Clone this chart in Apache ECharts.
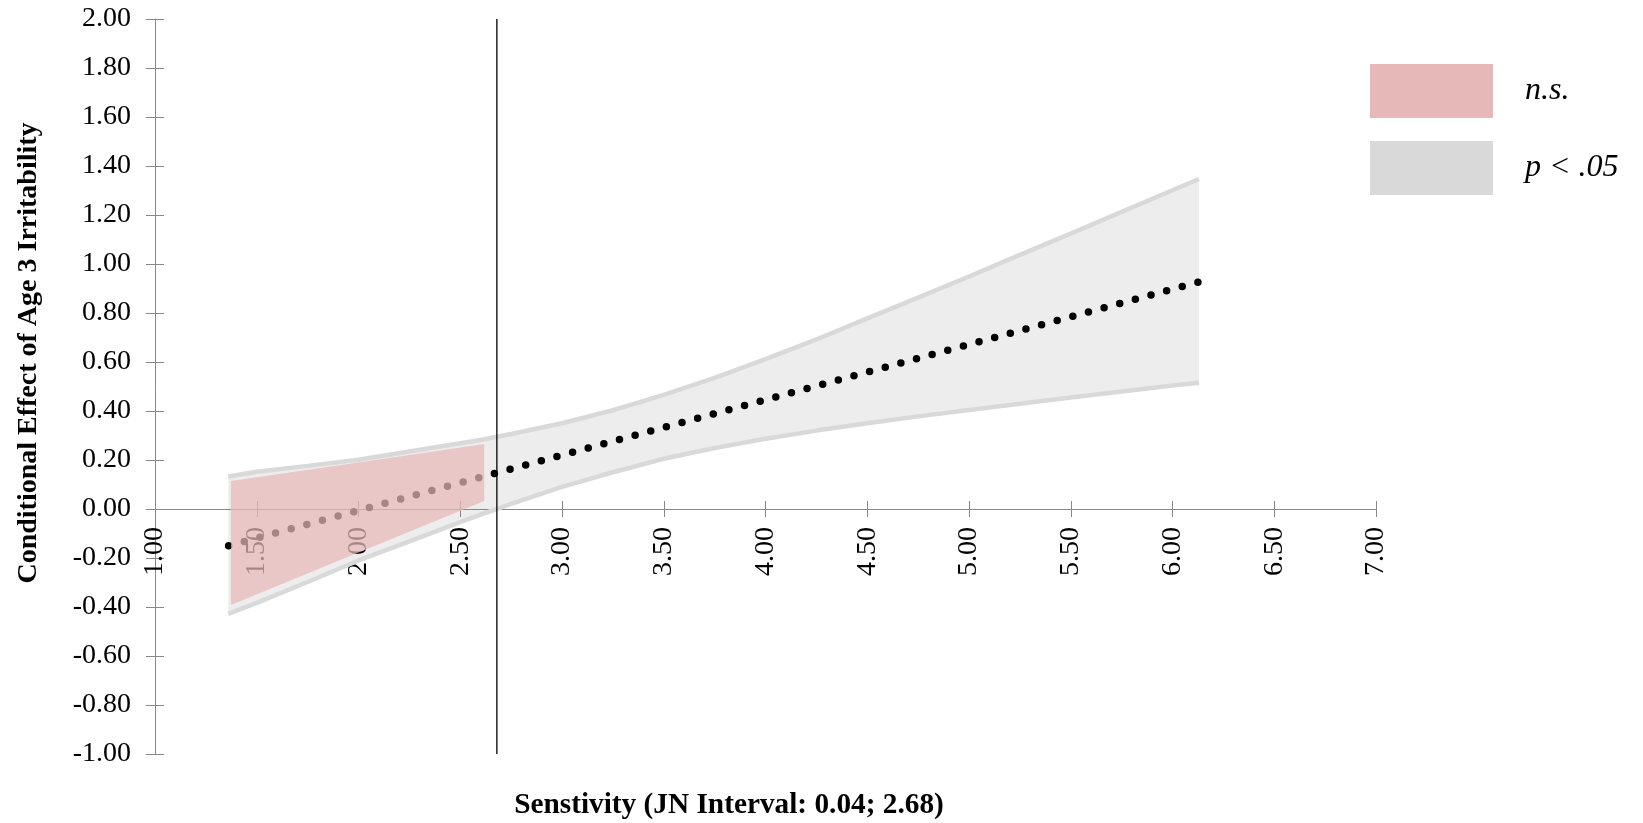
<!DOCTYPE html>
<html>
<head>
<meta charset="utf-8">
<script src="https://cdn.jsdelivr.net/npm/echarts@6/dist/echarts.min.js"></script>
<style>
  html, body { margin: 0; padding: 0; background: #ffffff; }
  #chart { width: 1643px; height: 823px; }
</style>
</head>
<body>
<div id="chart"></div>
<script>
// Axis ticks
const xTicks = [1.0, 1.5, 2.0, 2.5, 3.0, 3.5, 4.0, 4.5, 5.0, 5.5, 6.0, 6.5, 7.0];
const yTicks = [-1.0, -0.8, -0.6, -0.4, -0.2, 0.0, 0.2, 0.4, 0.6, 0.8, 1.0, 1.2, 1.4, 1.6, 1.8, 2.0];

// 95% confidence band of the conditional effect
const ciX     = [1.36, 1.50, 1.75, 2.00, 2.25, 2.50, 2.62, 2.68, 2.75, 3.00, 3.25, 3.50, 3.75,
                 4.00, 4.25, 4.50, 4.75, 5.00, 5.25, 5.50, 5.75, 6.00, 6.13];
const ciUpper = [0.133, 0.152, 0.176, 0.201, 0.235, 0.268, 0.285, 0.295, 0.306, 0.350, 0.403, 0.466, 0.535,
                 0.612, 0.692, 0.778, 0.863, 0.949, 1.037, 1.124, 1.213, 1.301, 1.347];
const ciLower = [-0.428, -0.383, -0.298, -0.210, -0.132, -0.054, -0.017, 0.000, 0.021, 0.090, 0.150, 0.205, 0.249,
                 0.287, 0.320, 0.350, 0.378, 0.404, 0.430, 0.455, 0.480, 0.504, 0.515];

// Non-significant region (left of the Johnson-Neyman point)
const nsX     = [1.373, 2.000, 2.618];
const nsUpper = [0.114, 0.190, 0.265];
const nsLower = [-0.392, -0.178, 0.033];

// Conditional effect estimate
const estX = [1.362, 6.136];
const estY = [-0.150, 0.928];

// Johnson-Neyman boundary
const jnPoint = 2.68;
const jnSpan = [-1.0, 2.0];

const legendNames = ['n.s.', 'p < .05'];
const xTitle = 'Senstivity (JN Interval: 0.04; 2.68)';
const yTitle = 'Conditional Effect of Age 3 Irritability';

const FONT = '"Liberation Serif", "Times New Roman", serif';
const AXIS_GRAY = '#888888';
const PINK = '#E6B8B7';
const GRAY_LINE = '#D9D9D9';
const GRAY_FILL = '#EDEDED';

// Plot area
const PLOT = { left: 155, right: 267, top: 19, bottom: 69 };
const plotHeight = 823 - PLOT.top - PLOT.bottom;
const yMin = yTicks[0];
const yMax = yTicks[yTicks.length - 1];
// pixel row of the y = 0 line, where the horizontal axis is drawn
const zeroRow = PLOT.top + plotHeight * (yMax - 0) / (yMax - yMin);

const fmt = v => (Math.abs(v) < 1e-9 ? 0 : v).toFixed(2);
const pairs = (xs, ys) => xs.map((x, i) => [x, ys[i]]);

// Filled polygon between an upper and a lower edge, placed through the axes
function bandRenderer(xs, hi, lo, fill, opacity) {
  return function (params, api) {
    const top = xs.map((x, i) => api.coord([x, hi[i]]));
    const bottom = xs.map((x, i) => api.coord([x, lo[i]])).reverse();
    return {
      type: 'polygon',
      shape: { points: top.concat(bottom) },
      style: { fill: fill, opacity: opacity }
    };
  };
}

const xBase = {
  type: 'value',
  min: xTicks[0],
  max: xTicks[xTicks.length - 1],
  interval: xTicks[1] - xTicks[0],
  position: 'bottom',
  splitLine: { show: false },
  z: 1.5
};
const yBase = {
  type: 'value',
  gridIndex: 0,
  min: yMin,
  max: yMax,
  interval: 0.2,
  position: 'left',
  splitLine: { show: false },
  z: 1.5
};

const chart = echarts.init(document.getElementById('chart'), null, { renderer: 'canvas' });

chart.setOption({
  animation: false,
  backgroundColor: '#ffffff',
  grid: [
    // data area
    Object.assign({ containLabel: false, outerBoundsMode: 'none' }, PLOT),
    // thin strip whose bottom edge sits on y = 0: carries the horizontal axis
    {
      left: PLOT.left, right: PLOT.right, top: zeroRow - 20, height: 20,
      containLabel: false, outerBoundsMode: 'none'
    }
  ],
  xAxis: [
    Object.assign({}, xBase, { gridIndex: 0, show: false }),
    Object.assign({}, xBase, {
      gridIndex: 1,
      axisLine: { show: true, onZero: false, lineStyle: { color: AXIS_GRAY, width: 1 } },
      axisTick: { show: true, inside: false, length: 8, lineStyle: { color: AXIS_GRAY, width: 1 } },
      axisLabel: {
        show: true, rotate: 90, margin: 18, color: '#000000',
        fontFamily: FONT, fontSize: 28,
        showMinLabel: true, showMaxLabel: true,
        formatter: fmt
      }
    }),
    Object.assign({}, xBase, {
      gridIndex: 1,
      axisLine: { show: false, onZero: false },
      axisTick: { show: true, inside: true, length: 8, lineStyle: { color: AXIS_GRAY, width: 1 } },
      axisLabel: { show: false }
    })
  ],
  yAxis: [
    Object.assign({}, yBase, {
      axisLine: { show: true, onZero: false, lineStyle: { color: AXIS_GRAY, width: 1 } },
      axisTick: { show: true, inside: false, length: 9, lineStyle: { color: AXIS_GRAY, width: 1 } },
      axisLabel: {
        show: true, margin: 24, color: '#000000',
        fontFamily: FONT, fontSize: 28,
        showMinLabel: true, showMaxLabel: true,
        formatter: fmt
      }
    }),
    Object.assign({}, yBase, {
      axisLine: { show: false, onZero: false },
      axisTick: { show: true, inside: true, length: 9, lineStyle: { color: AXIS_GRAY, width: 1 } },
      axisLabel: { show: false }
    }),
    { type: 'value', gridIndex: 1, min: 0, max: 1, show: false }
  ],
  legend: {
    orient: 'vertical',
    left: 1370,
    top: 64,
    padding: 0,
    itemWidth: 123,
    itemHeight: 54,
    itemGap: 23,
    icon: 'rect',
    selectedMode: false,
    data: legendNames,
    itemStyle: { borderWidth: 0 },
    textStyle: {
      fontFamily: FONT, fontSize: 32, fontStyle: 'italic', color: '#000000',
      padding: [0, 0, 0, 27]
    }
  },
  series: [
    {
      name: legendNames[1],
      type: 'custom',
      z: 1,
      silent: true,
      itemStyle: { color: GRAY_LINE },
      renderItem: bandRenderer(ciX, ciUpper, ciLower, GRAY_FILL, 1),
      data: [[ciX[0], ciUpper[0]]]
    },
    {
      name: 'estimate',
      type: 'line',
      z: 2,
      silent: true,
      symbol: 'none',
      data: pairs(estX, estY),
      lineStyle: { color: '#000000', width: 7.5, type: [0, 16.2], cap: 'round' }
    },
    {
      name: legendNames[0],
      type: 'custom',
      z: 3,
      silent: true,
      itemStyle: { color: PINK },
      renderItem: bandRenderer(nsX, nsUpper, nsLower, PINK, 0.72),
      data: [[nsX[0], nsUpper[0]]]
    },
    {
      name: 'upper',
      type: 'line',
      z: 4,
      silent: true,
      symbol: 'none',
      data: pairs(ciX, ciUpper),
      lineStyle: { color: GRAY_LINE, width: 4.5 }
    },
    {
      name: 'lower',
      type: 'line',
      z: 4,
      silent: true,
      symbol: 'none',
      data: pairs(ciX, ciLower),
      lineStyle: { color: GRAY_LINE, width: 4.5 }
    },
    {
      name: 'jn',
      type: 'line',
      z: 5,
      silent: true,
      symbol: 'none',
      data: [[jnPoint, jnSpan[0]], [jnPoint, jnSpan[1]]],
      lineStyle: { color: '#000000', width: 1.3 }
    }
  ],
  graphic: [
    {
      type: 'text',
      x: 29, y: 353,
      rotation: Math.PI / 2,
      style: {
        text: yTitle,
        font: 'bold 28px ' + FONT,
        fill: '#000000',
        align: 'center', verticalAlign: 'middle',
        textAlign: 'center', textVerticalAlign: 'middle'
      }
    },
    {
      type: 'text',
      x: 729, y: 805,
      style: {
        text: xTitle,
        font: 'bold 29.3px ' + FONT,
        fill: '#000000',
        align: 'center', verticalAlign: 'middle',
        textAlign: 'center', textVerticalAlign: 'middle'
      }
    }
  ]
});
</script>
</body>
</html>
